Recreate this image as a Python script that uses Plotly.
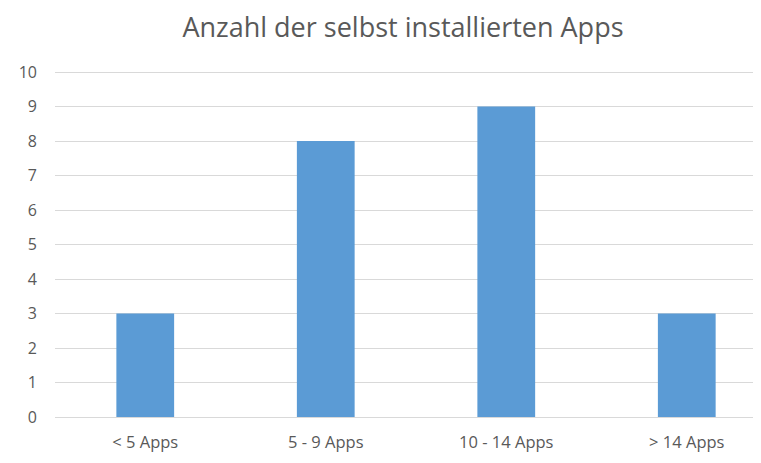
import plotly.graph_objects as go

categories = ["< 5 Apps", "5 - 9 Apps", "10 - 14 Apps", "> 14 Apps"]
values = [3, 8, 9, 3]
y_ticks = list(range(0, 11))

fig = go.Figure()
fig.add_trace(go.Bar(
    x=categories, y=values,
    marker=dict(color="#5B9BD5", line=dict(width=0)),
    width=0.32,
))

fig.update_layout(
    width=761, height=463,
    paper_bgcolor="white", plot_bgcolor="white",
    margin=dict(l=47, r=1, t=63, b=54),
    title=dict(text="Anzahl der selbst installierten Apps", xref="container", x=0.519, xanchor="center",
               yref="container", y=0.958, yanchor="middle",
               font=dict(family="Open Sans", size=27, color="#595959")),
    font=dict(family="Open Sans", color="#595959"),
    showlegend=False,
)
fig.update_xaxes(
    type="category", range=[-0.5, 3.45],
    showgrid=False, showline=True, linecolor="#D9D9D9", linewidth=1,
    ticks="", ticklabelstandoff=10,
    tickfont=dict(size=16.5, color="#595959"),
)
fig.update_yaxes(
    range=[0, 10.03], tickvals=y_ticks,
    showgrid=True, gridcolor="#D9D9D9", gridwidth=1,
    zeroline=False, showline=False, ticks="",
    ticklabelstandoff=17,
    tickfont=dict(size=16, color="#595959"),
)

fig.write_html("out.html")
